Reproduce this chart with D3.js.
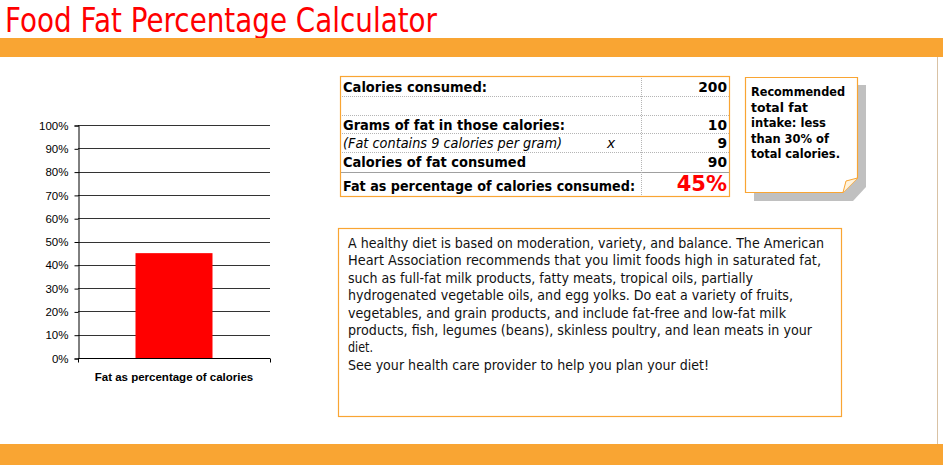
<!DOCTYPE html>
<html>
<head>
<meta charset="utf-8">
<script src="https://cdn.jsdelivr.net/npm/d3@7"></script>
<style>
html,body{margin:0;padding:0;background:#fff;overflow:hidden;}
svg{display:block;}
</style>
</head>
<body>
<svg id="c" width="943" height="465"></svg>
<script>
// ---- data ----
const categories = ["Fat as percentage of calories"];
const fatPercent = [0.45];
const yTicks = [0, 0.1, 0.2, 0.3, 0.4, 0.5, 0.6, 0.7, 0.8, 0.9, 1.0];
const tableLabels = ["Calories consumed:", "", "Grams of fat in those calories:", "(Fat contains 9 calories per gram)", "Calories of fat consumed", "Fat as percentage of calories consumed:"];
const tableValues = ["200", "", "10", "9", "90", "45%"];
const noteLines = ["Recommended", "total fat", "intake: less", "than 30% of", "total calories."];
const paragraphLines = [
  "A healthy diet is based on moderation, variety, and balance. The American",
  "Heart Association recommends that you limit foods high in saturated fat,",
  "such as full-fat milk products, fatty meats, tropical oils, partially",
  "hydrogenated vegetable oils, and egg yolks. Do eat a variety of fruits,",
  "vegetables, and grain products, and include fat-free and low-fat milk",
  "products, fish, legumes (beans), skinless poultry, and lean meats in your",
  "diet.",
  "See your health care provider to help you plan your diet!"
];
const titleText = "Food Fat Percentage Calculator";

// ---- layout ----
const svg = d3.select("#c");
const ORANGE = "#f9a533";
const TFONT = "'DejaVu Sans', Verdana, sans-serif";
const CFONT = "'Liberation Sans', Arial, sans-serif";

// title
svg.append("text").attr("x", 5).attr("y", 32).attr("fill", "#ff0000")
  .attr("font-family", TFONT).attr("font-size", 34)
  .attr("textLength", 432).attr("lengthAdjust", "spacingAndGlyphs")
  .text(titleText);

// bands
svg.append("rect").attr("x", 0).attr("y", 38).attr("width", 943).attr("height", 19).attr("fill", ORANGE);
svg.append("rect").attr("x", 0).attr("y", 444).attr("width", 943).attr("height", 21).attr("fill", ORANGE);
svg.append("line").attr("x1", 937.5).attr("x2", 937.5).attr("y1", 57).attr("y2", 444)
  .attr("stroke", "#d9c2a4").attr("stroke-width", 1);

// ---- chart ----
const plot = {x0: 78, x1: 270, y0: 125, y1: 358};
const y = d3.scaleLinear().domain([0, 1]).range([plot.y1, plot.y0]);
const x = d3.scaleBand().domain(categories).range([plot.x0, plot.x1]).padding(0.4275);

const g = svg.append("g");
// gridlines
g.selectAll("line.grid").data(yTicks.filter(d => d > 0)).join("line")
  .attr("class", "grid")
  .attr("x1", plot.x0).attr("x2", plot.x1)
  .attr("y1", d => Math.round(y(d)) + 0.5).attr("y2", d => Math.round(y(d)) + 0.5)
  .attr("stroke", "#333").attr("stroke-width", 1.2);

// bars
g.selectAll("rect.bar").data(fatPercent).join("rect")
  .attr("class", "bar")
  .attr("x", (d, i) => x(categories[i]))
  .attr("width", x.bandwidth())
  .attr("y", d => y(d))
  .attr("height", d => y(0) - y(d))
  .attr("fill", "#ff0000");

// y axis
const yAxis = d3.axisLeft(y).tickValues(yTicks).tickFormat(d3.format(".0%")).tickSize(4).tickPadding(6);
const ya = g.append("g").attr("transform", `translate(${plot.x0 + 0.5},0.5)`).call(yAxis);
ya.select(".domain").attr("stroke", "#000");
ya.selectAll(".tick line").attr("stroke", "#000");
ya.selectAll(".tick text").attr("font-family", CFONT).attr("font-size", 11.5).attr("fill", "#000");

// x axis
const xEdges = d3.scaleLinear().domain([0, categories.length]).range([plot.x0, plot.x1]);
const xAxisG = g.append("g").attr("transform", `translate(0,${plot.y1 + 0.5})`);
xAxisG.append("line").attr("x1", plot.x0).attr("x2", plot.x1).attr("stroke", "#000");
xAxisG.selectAll("line.edge").data(d3.range(categories.length + 1)).join("line")
  .attr("class", "edge")
  .attr("x1", d => Math.round(xEdges(d)) + 0.5).attr("x2", d => Math.round(xEdges(d)) + 0.5)
  .attr("y1", 0).attr("y2", 4).attr("stroke", "#000");
xAxisG.selectAll("text").data(categories).join("text")
  .attr("x", d => x(d) + x.bandwidth() / 2).attr("y", 22)
  .attr("text-anchor", "middle").attr("font-family", CFONT).attr("font-size", 11.5)
  .attr("font-weight", "bold").attr("fill", "#000").text(d => d);

// ---- table ----
const tb = {x0: 340, x1: 730, colX: 641.5};
const rowTops = [76, 96, 115, 133, 152, 172, 197];
const labelWidths = [144, 0, 222, 219, 183, 292];
const tg = svg.append("g");
rowTops.slice(1, -1).forEach((ry, i) => {
  const last = i === rowTops.length - 3;
  tg.append("line").attr("x1", tb.x0).attr("x2", tb.x1).attr("y1", ry + 0.5).attr("y2", ry + 0.5)
    .attr("stroke", last ? "#a0a0a0" : "#b5b5b5").attr("stroke-width", 1)
    .attr("stroke-dasharray", last ? null : "1,1");
});
tg.append("line").attr("x1", tb.colX).attr("x2", tb.colX).attr("y1", rowTops[0]).attr("y2", rowTops[rowTops.length - 1])
  .attr("stroke", "#b5b5b5").attr("stroke-dasharray", "1,1");
tg.append("rect").attr("x", tb.x0 + 0.5).attr("y", rowTops[0] + 0.5)
  .attr("width", tb.x1 - tb.x0 - 1).attr("height", rowTops[rowTops.length - 1] - rowTops[0] - 1)
  .attr("fill", "none").attr("stroke", ORANGE).attr("stroke-width", 1.2);

const baselines = [92, 0, 130, 148, 167, 191];
tableLabels.forEach((t, i) => {
  if (!t) return;
  const italic = i === 3;
  tg.append("text").attr("x", 343).attr("y", baselines[i])
    .attr("font-family", TFONT).attr("font-size", 13.8)
    .attr("font-weight", italic ? "normal" : "bold")
    .attr("font-style", italic ? "italic" : "normal")
    .attr("textLength", labelWidths[i]).attr("lengthAdjust", "spacingAndGlyphs")
    .attr("fill", "#000").text(t);
  if (italic) {
    tg.append("text").attr("x", 607).attr("y", baselines[i])
      .attr("font-family", TFONT).attr("font-size", 13.8).attr("font-style", "italic").text("x");
  }
});
tableValues.forEach((v, i) => {
  if (!v) return;
  const big = i === tableValues.length - 1;
  tg.append("text").attr("x", 727).attr("y", baselines[i])
    .attr("text-anchor", "end").attr("font-family", TFONT)
    .attr("font-size", big ? 21 : 13.8).attr("font-weight", "bold")
    .attr("fill", big ? "#ff0000" : "#000").text(v);
});

// ---- note ----
const ng = svg.append("g");
ng.append("path").attr("d", "M754,85 L866,85 L866,187 L853,201 L754,201 Z").attr("fill", "#c0c0c0");
ng.append("path").attr("d", "M745.5,77.5 L857.5,77.5 L857.5,178 L843,192.5 L745.5,192.5 Z")
  .attr("fill", "#fff").attr("stroke", ORANGE).attr("stroke-width", 1.2);
ng.append("path").attr("d", "M843,192.5 L846,181 L857.5,178").attr("fill", "#fff3dc").attr("stroke", ORANGE).attr("stroke-width", 1);
const noteW = [94, 57, 75, 78, 89];
noteLines.forEach((t, i) => {
  ng.append("text").attr("x", 751).attr("y", 96 + i * 15.5)
    .attr("font-family", TFONT).attr("font-size", 13).attr("font-weight", "bold")
    .attr("textLength", noteW[i]).attr("lengthAdjust", "spacingAndGlyphs")
    .attr("fill", "#000").text(t);
});

// ---- paragraph ----
const pg = svg.append("g");
pg.append("rect").attr("x", 338.5).attr("y", 228.5).attr("width", 503).attr("height", 188)
  .attr("fill", "#fff").attr("stroke", ORANGE).attr("stroke-width", 1.2);
const paraW = [476, 473, 405, 445, 438, 464, 25, 361];
paragraphLines.forEach((t, i) => {
  pg.append("text").attr("x", 348).attr("y", 248 + i * 17.4)
    .attr("font-family", TFONT).attr("font-size", 13.6)
    .attr("textLength", paraW[i]).attr("lengthAdjust", "spacingAndGlyphs")
    .attr("fill", "#111").text(t);
});
</script>
</body>
</html>
